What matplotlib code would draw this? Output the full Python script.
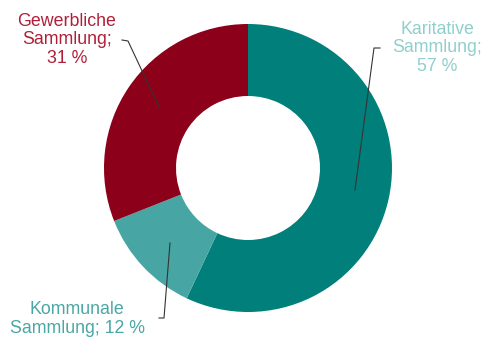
import matplotlib

matplotlib.use("Agg")
import matplotlib.pyplot as plt

# data, clockwise from 12 o'clock
labels = ["Karitative\nSammlung;\n57 %", "Kommunale\nSammlung; 12 %", "Gewerbliche\nSammlung;\n31 %"]
shares = [57, 12, 31]
colors = ["#007f7b", "#47a6a3", "#8c0019"]
label_colors = ["#8fcfcc", "#4aa7a4", "#b01f38"]

W, H = 483, 340
fig = plt.figure(figsize=(W / 100, H / 100), dpi=100)
ax = fig.add_axes([0, 0, 1, 1])

cx, cy, r = 248, H - 168, 144
ax.pie(shares, colors=colors, startangle=90, counterclock=False,
       center=(cx, cy), radius=r, frame=True,
       wedgeprops=dict(width=r * 0.5, linewidth=0))
ax.set_xlim(0, W)
ax.set_ylim(0, H)
ax.axis("off")

# label positions (pixel coords from top-left) and leader lines
text_pos = [(437, 48), (77, 319), (67, 40)]
leaders = [
    [(380, 48), (374, 48), (355, 190)],
    [(159, 318), (164, 318), (170, 243)],
    [(122, 40), (128, 41), (159, 107)],
]
for lab, col, (tx, ty), pts in zip(labels, label_colors, text_pos, leaders):
    ax.text(tx, H - ty, lab, ha="center", va="center", color=col,
            fontsize=12.8, family="Liberation Sans", linespacing=1.08)
    ax.plot([p[0] for p in pts], [H - p[1] for p in pts], color="#333333", lw=0.8)

fig.savefig("out.png", dpi=100)
